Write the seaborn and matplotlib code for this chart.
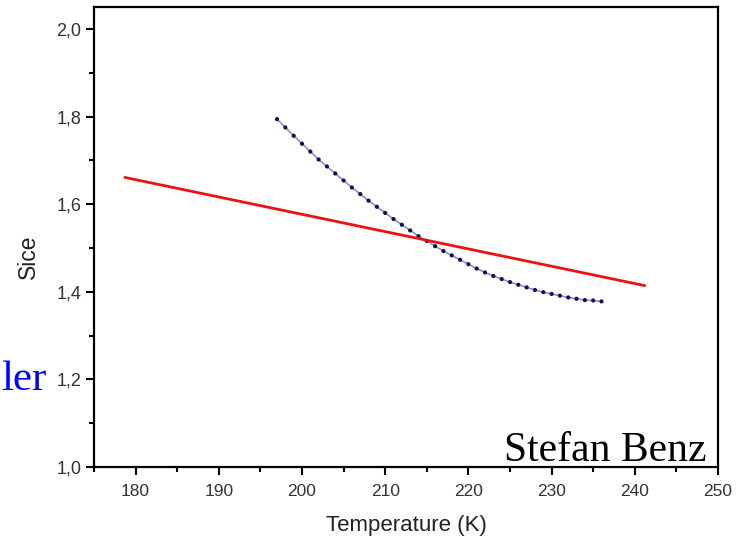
import matplotlib
matplotlib.use("Agg")
import matplotlib.pyplot as plt
import matplotlib.ticker as mticker
import seaborn as sns
import pandas as pd

# Data
temp_k = list(range(197, 237))
sice = [1.794, 1.775, 1.756, 1.738, 1.720, 1.702, 1.686, 1.670, 1.654, 1.638,
        1.623, 1.608, 1.594, 1.580, 1.566, 1.553, 1.540, 1.527, 1.516, 1.504,
        1.493, 1.483, 1.473, 1.463, 1.453, 1.444, 1.436, 1.429, 1.422, 1.416,
        1.410, 1.404, 1.399, 1.395, 1.391, 1.387, 1.384, 1.381, 1.380, 1.378]
line_t = [178.7, 241.2]
line_s = [1.661, 1.414]

xticks = [180, 190, 200, 210, 220, 230, 240, 250]
yticks = [1.0, 1.2, 1.4, 1.6, 1.8, 2.0]

sns.set_style("ticks")
plt.rcParams['font.family'] = ['Liberation Sans', 'DejaVu Sans']

fig = plt.figure(figsize=(7.45, 5.4), dpi=100)
ax = fig.add_axes([94 / 745, (540 - 467) / 540, (718 - 94) / 745, (467 - 7) / 540])

df_pts = pd.DataFrame({"T": temp_k, "S": sice})
df_line = pd.DataFrame({"T": line_t, "S": line_s})

sns.lineplot(data=df_pts, x="T", y="S", ax=ax, color="#8c8ce6", linewidth=1.2)
sns.scatterplot(data=df_pts, x="T", y="S", ax=ax, color="#10104a", s=9,
                edgecolor="none", zorder=3)
sns.lineplot(data=df_line, x="T", y="S", ax=ax, color="#ee1111", linewidth=2.0,
             zorder=4)

ax.set_xlim(175, 250)
ax.set_ylim(1.0, 2.05)
ax.set_xticks(xticks)
ax.set_yticks(yticks)
ax.xaxis.set_minor_locator(mticker.MultipleLocator(5))
ax.yaxis.set_minor_locator(mticker.MultipleLocator(0.1))
ax.set_xticklabels([str(v) for v in xticks])
ax.set_yticklabels([f"{v:.1f}".replace(".", ",") for v in yticks])

for side in ["left", "bottom", "top", "right"]:
    ax.spines[side].set_visible(True)
    ax.spines[side].set_linewidth(1.6)
    ax.spines[side].set_color("black")

ax.tick_params(axis="both", which="major", direction="out", length=6, width=1.5,
               colors="black")
ax.tick_params(axis="both", which="minor", direction="out", length=3.5, width=1.5,
               colors="black")
ax.tick_params(axis="x", which="major", labelsize=12.5, pad=6)
ax.tick_params(axis="y", which="major", labelsize=13, pad=3)
ax.tick_params(axis="x", which="both", top=False)
ax.tick_params(axis="y", which="both", right=False)
for lab in ax.get_xticklabels() + ax.get_yticklabels():
    lab.set_color("#333333")

ax.set_xlabel("")
ax.set_ylabel("")
fig.text(406 / 745, 1 - 526 / 540, "Temperature (K)", ha="center", va="center",
         fontsize=16, color="#222222")
fig.text(28 / 745, 1 - 257 / 540, "Sice", ha="center", va="center",
         rotation=90, fontsize=16.5, color="#222222")

fig.text(707 / 745, 1 - 461 / 540, "Stefan Benz", ha="right", va="baseline",
         fontsize=30, family=["Liberation Serif", "DejaVu Serif"], color="black")
fig.text(46 / 745, 1 - 390 / 540, "ler", ha="right", va="baseline",
         fontsize=31, family=["Liberation Serif", "DejaVu Serif"], color="#0000ff")

fig.savefig("out.png", dpi=100)
